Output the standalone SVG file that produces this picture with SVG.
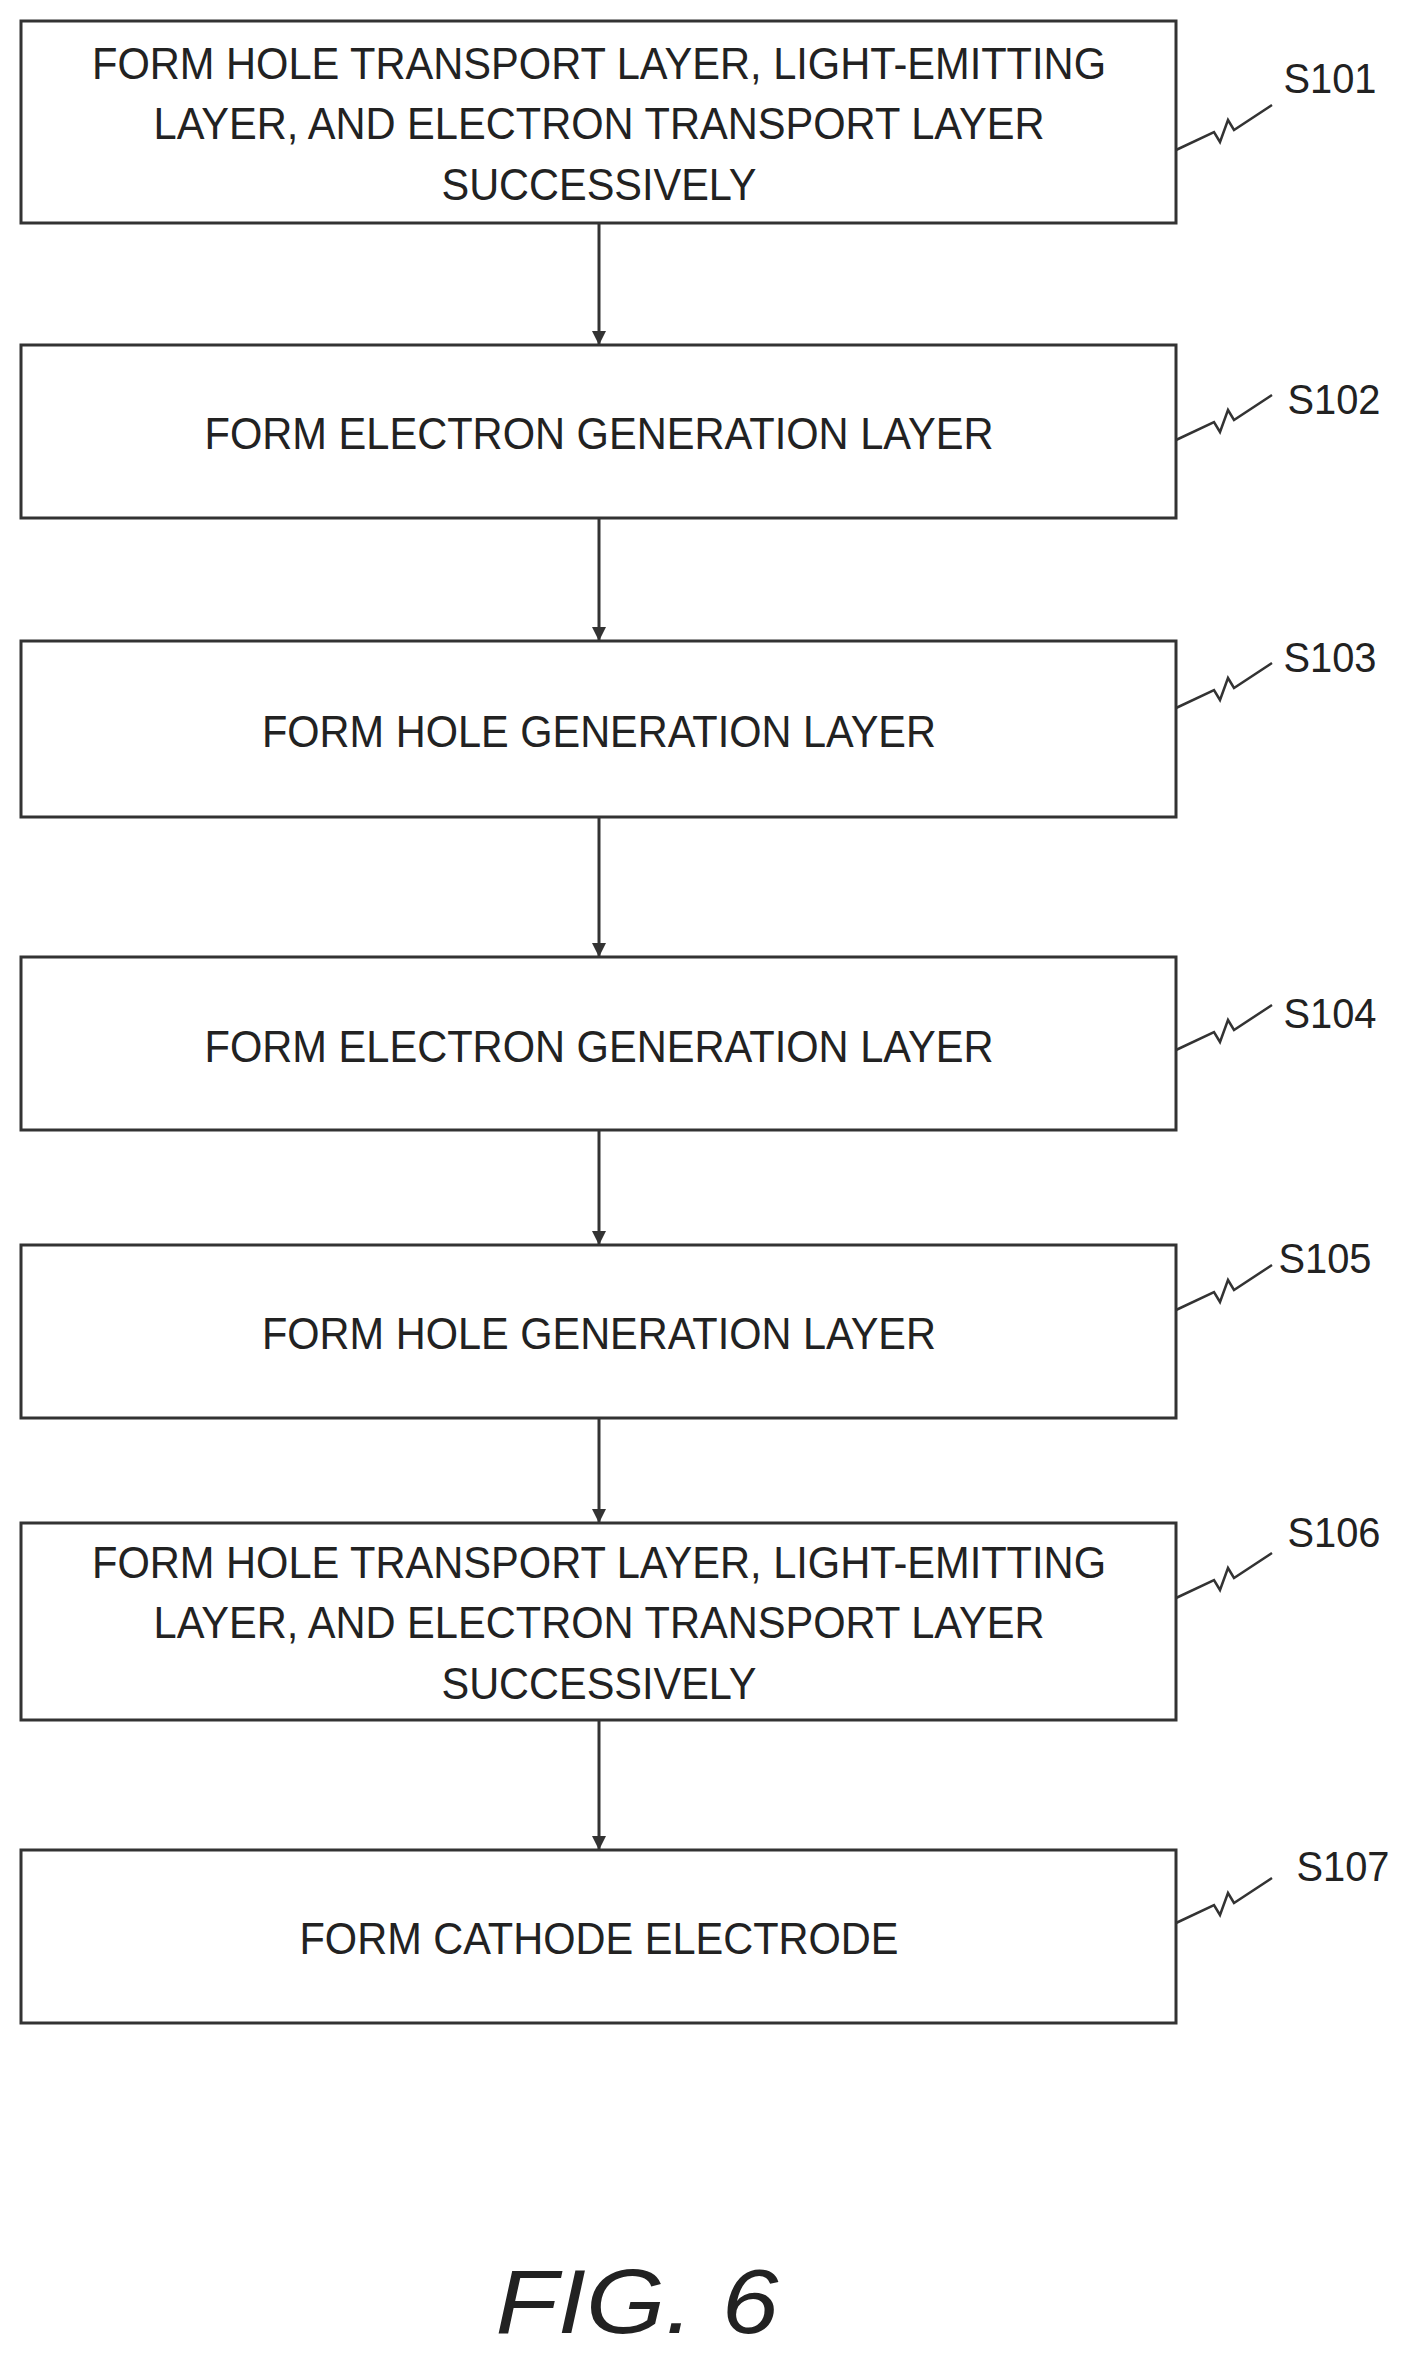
<svg xmlns="http://www.w3.org/2000/svg" width="1412" height="2363" viewBox="0 0 1412 2363">
<style>
.b{fill:#fff;stroke:#333;stroke-width:3}
.t{font-family:"Liberation Sans",Arial,sans-serif;font-size:45px;fill:#222;text-anchor:middle}
.l{font-family:"Liberation Sans",Arial,sans-serif;font-size:42px;fill:#222;text-anchor:middle}
.c{stroke:#333;stroke-width:3;fill:none}
.s{stroke:#333;stroke-width:2.5;fill:none}
</style>
<defs><marker id="ah" viewBox="0 0 14 14" refX="14" refY="7" markerWidth="14" markerHeight="14" orient="auto" markerUnits="userSpaceOnUse"><path d="M0,0 L14,7 L0,14 z" fill="#333"/></marker></defs>
<rect width="1412" height="2363" fill="#fff"/>
<g id="connectors">
<line class="c" x1="599" y1="223" x2="599" y2="345" marker-end="url(#ah)"/>
<line class="c" x1="599" y1="518" x2="599" y2="641" marker-end="url(#ah)"/>
<line class="c" x1="599" y1="817" x2="599" y2="957" marker-end="url(#ah)"/>
<line class="c" x1="599" y1="1130" x2="599" y2="1245" marker-end="url(#ah)"/>
<line class="c" x1="599" y1="1418" x2="599" y2="1523" marker-end="url(#ah)"/>
<line class="c" x1="599" y1="1720" x2="599" y2="1850" marker-end="url(#ah)"/>
</g>
<g id="s101"><rect class="b" x="21" y="21" width="1155" height="202"/>
<text class="t" x="599" y="79" textLength="1014" lengthAdjust="spacingAndGlyphs">FORM HOLE TRANSPORT LAYER, LIGHT-EMITTING</text>
<text class="t" x="599" y="139" textLength="891" lengthAdjust="spacingAndGlyphs">LAYER, AND ELECTRON TRANSPORT LAYER</text>
<text class="t" x="599" y="200" textLength="315" lengthAdjust="spacingAndGlyphs">SUCCESSIVELY</text>
<path class="s" d="M1176,150 l38,-18 l6,10 l8,-22 l6,10 l38,-25"/><text class="l" x="1330" y="93" textLength="93" lengthAdjust="spacingAndGlyphs">S101</text></g>
<g id="s102"><rect class="b" x="21" y="345" width="1155" height="173"/>
<text class="t" x="599" y="449" textLength="789" lengthAdjust="spacingAndGlyphs">FORM ELECTRON GENERATION LAYER</text>
<path class="s" d="M1176,440 l38,-18 l6,10 l8,-22 l6,10 l38,-25"/><text class="l" x="1334" y="414" textLength="93" lengthAdjust="spacingAndGlyphs">S102</text></g>
<g id="s103"><rect class="b" x="21" y="641" width="1155" height="176"/>
<text class="t" x="599" y="747" textLength="674" lengthAdjust="spacingAndGlyphs">FORM HOLE GENERATION LAYER</text>
<path class="s" d="M1176,708 l38,-18 l6,10 l8,-22 l6,10 l38,-25"/><text class="l" x="1330" y="672" textLength="93" lengthAdjust="spacingAndGlyphs">S103</text></g>
<g id="s104"><rect class="b" x="21" y="957" width="1155" height="173"/>
<text class="t" x="599" y="1062" textLength="789" lengthAdjust="spacingAndGlyphs">FORM ELECTRON GENERATION LAYER</text>
<path class="s" d="M1176,1050 l38,-18 l6,10 l8,-22 l6,10 l38,-25"/><text class="l" x="1330" y="1028" textLength="93" lengthAdjust="spacingAndGlyphs">S104</text></g>
<g id="s105"><rect class="b" x="21" y="1245" width="1155" height="173"/>
<text class="t" x="599" y="1349" textLength="674" lengthAdjust="spacingAndGlyphs">FORM HOLE GENERATION LAYER</text>
<path class="s" d="M1176,1310 l38,-18 l6,10 l8,-22 l6,10 l38,-25"/><text class="l" x="1325" y="1273" textLength="93" lengthAdjust="spacingAndGlyphs">S105</text></g>
<g id="s106"><rect class="b" x="21" y="1523" width="1155" height="197"/>
<text class="t" x="599" y="1578" textLength="1014" lengthAdjust="spacingAndGlyphs">FORM HOLE TRANSPORT LAYER, LIGHT-EMITTING</text>
<text class="t" x="599" y="1638" textLength="891" lengthAdjust="spacingAndGlyphs">LAYER, AND ELECTRON TRANSPORT LAYER</text>
<text class="t" x="599" y="1699" textLength="315" lengthAdjust="spacingAndGlyphs">SUCCESSIVELY</text>
<path class="s" d="M1176,1598 l38,-18 l6,10 l8,-22 l6,10 l38,-25"/><text class="l" x="1334" y="1547" textLength="93" lengthAdjust="spacingAndGlyphs">S106</text></g>
<g id="s107"><rect class="b" x="21" y="1850" width="1155" height="173"/>
<text class="t" x="599" y="1954" textLength="599" lengthAdjust="spacingAndGlyphs">FORM CATHODE ELECTRODE</text>
<path class="s" d="M1176,1923 l38,-18 l6,10 l8,-22 l6,10 l38,-25"/><text class="l" x="1343" y="1881" textLength="93" lengthAdjust="spacingAndGlyphs">S107</text></g>
<text x="637" y="2333" font-family="Liberation Sans,Arial,sans-serif" font-size="90" font-style="italic" fill="#222" text-anchor="middle" textLength="283" lengthAdjust="spacingAndGlyphs">FIG. 6</text>
</svg>
